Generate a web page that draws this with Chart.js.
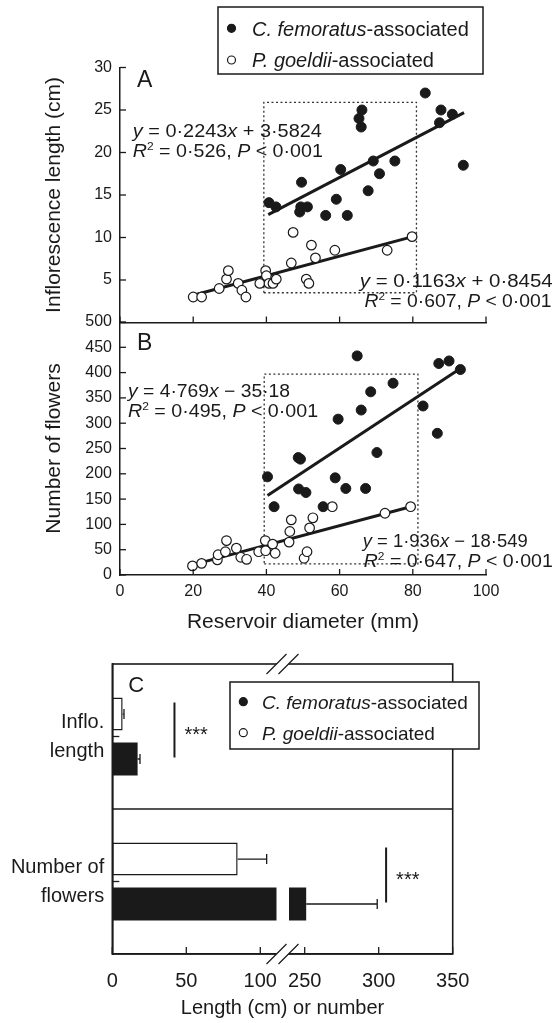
<!DOCTYPE html>
<html>
<head>
<meta charset="utf-8">
<script src="https://cdn.jsdelivr.net/npm/chart.js@4.4.1/dist/chart.umd.min.js"></script>
<style>
body { margin: 0; background: #fff; }
#wrap { position: relative; width: 557px; height: 1023px; }
#wrap canvas { position: absolute; left: 0; top: 0; }
</style>
</head>
<body>
<div id="wrap">
<canvas id="chartA" width="557" height="1023"></canvas>
<canvas id="chartB" width="557" height="1023"></canvas>
<canvas id="chartC" width="557" height="1023"></canvas>
</div>
<script>
var seriesNames = ['C. femoratus', 'P. goeldii'];

// A: inflorescence length (cm) vs reservoir diameter (mm)
var femA_x = [40.7, 42.6, 49.6, 49.1, 49.4, 51.2, 56.2, 59.1, 60.3, 62.1, 66.1, 65.3, 65.9, 67.8, 69.2, 70.9, 75.1, 83.4, 87.7, 87.3, 90.8, 93.8];
var femA_y = [14.1, 13.6, 16.5, 13.0, 13.6, 13.6, 12.6, 14.5, 18.0, 12.6, 25.0, 24.0, 23.0, 15.5, 19.0, 17.5, 19.0, 27.0, 25.0, 23.5, 24.5, 18.5];
var goeA_x = [20.0, 22.3, 27.1, 29.1, 29.6, 32.3, 33.3, 34.4, 38.2, 39.8, 40.0, 40.7, 41.8, 42.7, 46.8, 47.3, 50.9, 51.6, 52.3, 53.4, 58.7, 73.0, 79.8];
var goeA_y = [3.0, 3.0, 4.0, 5.1, 6.1, 4.6, 3.8, 3.0, 4.6, 6.1, 5.5, 4.6, 4.6, 5.1, 7.0, 10.6, 5.1, 4.6, 9.1, 7.6, 8.5, 8.5, 10.1];
var fitFemA_x = [40.5, 94], fitFemA_y = [12.7, 24.7];
var fitGoeA_x = [20, 80], fitGoeA_y = [3.2, 10.1];
var boxA_x = [39.3, 81.0], boxA_y = [3.5, 25.9];

// B: number of flowers vs reservoir diameter (mm)
var femB_x = [40.3, 42.1, 48.7, 49.3, 48.8, 50.8, 55.5, 58.8, 59.6, 61.7, 64.8, 65.9, 67.1, 68.5, 70.2, 74.6, 82.8, 86.7, 87.1, 89.9, 93.0];
var femB_y = [194, 135, 232, 229, 170, 163, 135, 192, 308, 171, 433, 326, 171, 362, 242, 379, 334, 280, 418, 423, 406];
var goeB_x = [19.8, 22.3, 26.6, 26.8, 28.8, 29.1, 31.8, 33.0, 34.6, 37.9, 39.7, 39.8, 41.7, 42.4, 46.2, 46.4, 46.8, 50.3, 51.1, 51.8, 52.7, 58.0, 72.4, 79.4];
var goeB_y = [18, 23, 30, 40, 46, 68, 53, 35, 31, 46, 68, 48, 61, 43, 65, 86, 109, 33, 46, 93, 113, 135, 122, 135];
var fitFemB_x = [40.3, 93], fitFemB_y = [157, 408];
var fitGoeB_x = [19.8, 79.4], fitGoeB_y = [20, 135];
var boxB_x = [39.4, 81.4], boxB_y = [22, 397];

// C: means with error bars, length axis broken between 115 and 235
var cCategories = [['Inflo.', 'length'], ['Number of', 'flowers']];
var cGoeMean = [7.0, 84.7], cGoeErr = [0.9, 19.6];
var cFemMean = [17.1, 251], cFemErr = [1.6, 48];
var cTickLabels = [0, 50, 100, 250, 300, 350];
var axisBreak = [115, 235];
var sigX = [42, 305];

var ink = '#1a1a1a';
var FONT = "'Liberation Sans', Arial, Helvetica, sans-serif";
Chart.defaults.font.family = FONT;
Chart.defaults.color = ink;

function pts(xs, ys) { return xs.map(function (x, i) { return { x: x, y: ys[i] }; }); }
function rect(xs, ys) {
  return [{ x: xs[0], y: ys[0] }, { x: xs[1], y: ys[0] }, { x: xs[1], y: ys[1] }, { x: xs[0], y: ys[1] }, { x: xs[0], y: ys[0] }];
}
function toAxis(v) { return v <= axisBreak[0] ? v : v - (axisBreak[1] - axisBreak[0]); }

function segFont(s, size) {
  var sz = s[1] === 's' ? Math.round(size * 0.62) : size;
  return (s[1] === 'i' ? 'italic ' : '') + sz + 'px ' + FONT;
}
// draws text made of styled pieces, optionally stretched to a width
function richText(ctx, segs, x, y, size, width) {
  var ws = [], total = 0;
  segs.forEach(function (s) { ctx.font = segFont(s, size); var w = ctx.measureText(s[0]).width; ws.push(w); total += w; });
  ctx.save();
  ctx.translate(x, y);
  if (width) ctx.scale(width / total, 1);
  ctx.textBaseline = 'alphabetic';
  ctx.textAlign = 'left';
  ctx.fillStyle = ink;
  var cx = 0;
  segs.forEach(function (s, i) {
    ctx.font = segFont(s, size);
    ctx.fillText(s[0], cx, s[1] === 's' ? -size * 0.38 : 0);
    cx += ws[i];
  });
  ctx.restore();
}

function drawKey(ctx, box, rows, size) {
  ctx.save();
  ctx.fillStyle = '#fff';
  ctx.fillRect(box.l, box.t, box.r - box.l, box.b - box.t);
  ctx.lineWidth = 1.5;
  ctx.strokeStyle = ink;
  ctx.strokeRect(box.l, box.t, box.r - box.l, box.b - box.t);
  rows.forEach(function (row, i) {
    ctx.beginPath();
    ctx.arc(box.mx, row, 4, 0, Math.PI * 2);
    ctx.fillStyle = i === 0 ? ink : '#fff';
    ctx.fill();
    ctx.lineWidth = 1.2;
    ctx.stroke();
    richText(ctx, [[seriesNames[i], 'i'], ['-associated']], box.tx, row + size * 0.36, size);
  });
  ctx.restore();
}

function r2(r, p) { return [['R', 'i'], ['2', 's'], [' = 0\u00b7' + r + ', '], ['P', 'i'], [' < 0\u00b7' + p]]; }

var eqA = [
  { x: 3.5, y: 21.8, w: 189, segs: [['y', 'i'], [' = 0\u00b72243'], ['x', 'i'], [' + 3\u00b75824']] },
  { x: 3.5, y: 19.5, w: 190, segs: r2('526', '001') },
  { x: 65.5, y: 4.2, w: 193, segs: [['y', 'i'], [' = 0\u00b71163'], ['x', 'i'], [' + 0\u00b78454']] },
  { x: 66.8, y: 1.85, w: 187, segs: r2('607', '001') }
];
var eqB = [
  { x: 2.2, y: 352, w: 162, segs: [['y', 'i'], [' = 4\u00b7769'], ['x', 'i'], [' \u2212 35\u00b718']] },
  { x: 2.2, y: 313, w: 190, segs: r2('495', '001') },
  { x: 66.3, y: 56, w: 165, segs: [['y', 'i'], [' = 1\u00b7936'], ['x', 'i'], [' \u2212 18\u00b7549']] },
  { x: 66.6, y: 16.4, w: 189, segs: r2('647', '001') }
];

// tick marks pointing into the plot
var inwardTicks = {
  id: 'inwardTicks',
  afterDraw: function (chart, args, opts) {
    var ctx = chart.ctx, a = chart.chartArea;
    ctx.save();
    ctx.strokeStyle = ink;
    ctx.lineWidth = 1.3;
    Object.keys(chart.scales).forEach(function (k) {
      var s = chart.scales[k];
      s.ticks.forEach(function (t, i) {
        var p = s.getPixelForTick(i);
        ctx.beginPath();
        if (s.isHorizontal()) { ctx.moveTo(p, a.bottom); ctx.lineTo(p, a.bottom - opts.len); }
        else { ctx.moveTo(a.left, p); ctx.lineTo(a.left + opts.len, p); }
        ctx.stroke();
      });
    });
    ctx.restore();
  }
};

var equations = {
  id: 'equations',
  afterDraw: function (chart, args, opts) {
    var ctx = chart.ctx, xs = chart.scales.x, ys = chart.scales.y;
    opts.lines.forEach(function (e) {
      richText(ctx, e.segs, xs.getPixelForValue(e.x), ys.getPixelForValue(e.y), 18, e.w);
    });
    ctx.save();
    ctx.fillStyle = ink;
    ctx.font = '23px ' + FONT;
    ctx.fillText(opts.panel, chart.chartArea.left + 17, chart.chartArea.top + opts.panelDy);
    ctx.restore();
    if (opts.key) drawKey(ctx, { l: 218, t: 7, r: 483, b: 74, mx: 231.5, tx: 252 }, [28.3, 60], 20);
  }
};

function scatterSets(fx, fy, gx, gy, lfx, lfy, lgx, lgy, bx, by) {
  return [
    { label: seriesNames[0], data: pts(fx, fy), pointRadius: 5, pointBackgroundColor: ink, pointBorderColor: ink, pointBorderWidth: 1 },
    { label: seriesNames[1], data: pts(gx, gy), pointRadius: 4.8, pointBackgroundColor: '#fff', pointBorderColor: ink, pointBorderWidth: 1.2 },
    { data: pts(lfx, lfy), showLine: true, pointRadius: 0, borderColor: ink, borderWidth: 3 },
    { data: pts(lgx, lgy), showLine: true, pointRadius: 0, borderColor: ink, borderWidth: 3 },
    { data: rect(bx, by), showLine: true, pointRadius: 0, borderColor: '#333', borderWidth: 1.3, borderDash: [2, 2.5] }
  ];
}

function axisBase() {
  return {
    type: 'linear',
    grid: { display: false, drawTicks: false },
    border: { display: true, color: ink, width: 1.5 }
  };
}

// panel A
var xA = axisBase();
xA.min = 0; xA.max = 100;
xA.ticks = { stepSize: 20, display: false };
xA.afterFit = function (s) { s.height = 0; };
var yA = axisBase();
yA.min = 0; yA.max = 30;
yA.ticks = { stepSize: 5, padding: 8, font: { size: 16 }, callback: function (v) { return v === 0 ? '' : v; } };
yA.title = { display: true, text: 'Inflorescence length (cm)', font: { size: 21 }, padding: { top: 41.4, bottom: 0 } };
yA.afterFit = function (s) { s.width = 120; };

new Chart(document.getElementById('chartA'), {
  type: 'scatter',
  data: { datasets: scatterSets(femA_x, femA_y, goeA_x, goeA_y, fitFemA_x, fitFemA_y, fitGoeA_x, fitGoeA_y, boxA_x, boxA_y) },
  options: {
    responsive: false, animation: false, events: [],
    layout: { padding: { left: 0, right: 71, top: 67.5, bottom: 700.5 } },
    scales: { x: xA, y: yA },
    plugins: {
      legend: { display: false }, tooltip: { enabled: false },
      inwardTicks: { len: 6 },
      equations: { lines: eqA, panel: 'A', panelDy: 19.5, key: true }
    }
  },
  plugins: [inwardTicks, equations]
});

// panel B
var xB = axisBase();
xB.min = 0; xB.max = 100;
xB.ticks = { stepSize: 20, padding: 7, font: { size: 16 } };
xB.title = { display: true, text: 'Reservoir diameter (mm)', font: { size: 21 }, padding: { top: 0, bottom: 0 } };
xB.afterFit = function (s) { s.height = 59.6; };
var yB = axisBase();
yB.min = 0; yB.max = 500;
yB.ticks = { stepSize: 50, padding: 8, font: { size: 16 } };
yB.title = { display: true, text: 'Number of flowers', font: { size: 21 }, padding: { top: 41.4, bottom: 0 } };
yB.afterFit = function (s) { s.width = 120; };

new Chart(document.getElementById('chartB'), {
  type: 'scatter',
  data: { datasets: scatterSets(femB_x, femB_y, goeB_x, goeB_y, fitFemB_x, fitFemB_y, fitGoeB_x, fitGoeB_y, boxB_x, boxB_y) },
  options: {
    responsive: false, animation: false, events: [],
    layout: { padding: { left: 0, right: 71, top: 322, bottom: 388.4 } },
    scales: { x: xB, y: yB },
    plugins: {
      legend: { display: false }, tooltip: { enabled: false },
      inwardTicks: { len: 6 },
      equations: { lines: eqB, panel: 'B', panelDy: 28 }
    }
  },
  plugins: [inwardTicks, equations]
});

// panel C
var barExtras = {
  id: 'barExtras',
  afterDatasetsDraw: function (chart) {
    var ctx = chart.ctx, xs = chart.scales.x;
    var bx = xs.getPixelForValue(axisBreak[0]);
    ctx.save();
    chart.data.datasets.forEach(function (ds, di) {
      chart.getDatasetMeta(di).data.forEach(function (bar, i) {
        if (bar.x > bx + 6) {
          ctx.fillStyle = '#fff';
          ctx.fillRect(bx - 6, bar.y - bar.height / 2 - 1, 12.5, bar.height + 2);
        }
        var ex = xs.getPixelForValue(toAxis(ds.real[i] + ds.err[i]));
        ctx.strokeStyle = ink;
        ctx.lineWidth = 1.3;
        ctx.beginPath();
        ctx.moveTo(bar.x, bar.y); ctx.lineTo(ex, bar.y);
        ctx.moveTo(ex, bar.y - 5); ctx.lineTo(ex, bar.y + 5);
        ctx.stroke();
      });
    });
    ctx.restore();
  },
  afterDraw: function (chart) {
    var ctx = chart.ctx, a = chart.chartArea, xs = chart.scales.x, ys = chart.scales.y;
    var bx = xs.getPixelForValue(axisBreak[0]);
    ctx.save();
    ctx.strokeStyle = ink;
    ctx.lineWidth = 1.6;
    ctx.strokeRect(a.left, a.top, a.right - a.left, a.bottom - a.top);
    var mid = (ys.getPixelForTick(0) + ys.getPixelForTick(1)) / 2;
    ctx.beginPath(); ctx.moveTo(a.left, mid); ctx.lineTo(a.right, mid); ctx.stroke();
    // break marks
    [a.top, a.bottom].forEach(function (y) {
      ctx.fillStyle = '#fff';
      ctx.beginPath();
      ctx.moveTo(bx - 16, y + 10); ctx.lineTo(bx + 4, y - 10); ctx.lineTo(bx + 16, y - 10); ctx.lineTo(bx - 4, y + 10);
      ctx.closePath(); ctx.fill();
      ctx.lineWidth = 1.2;
      ctx.beginPath();
      ctx.moveTo(bx - 16, y + 10); ctx.lineTo(bx + 4, y - 10);
      ctx.moveTo(bx - 4, y + 10); ctx.lineTo(bx + 16, y - 10);
      ctx.stroke();
    });
    // significance
    var m0 = chart.getDatasetMeta(0).data, m1 = chart.getDatasetMeta(1).data;
    sigX.forEach(function (v, i) {
      var x = xs.getPixelForValue(toAxis(v));
      var c = (m0[i].y + m1[i].y) / 2;
      ctx.lineWidth = 2;
      ctx.beginPath(); ctx.moveTo(x, c - 34); ctx.lineTo(x, c + 21); ctx.stroke();
      ctx.fillStyle = ink;
      ctx.font = '20px ' + FONT;
      ctx.fillText('***', x + 10, c + 4);
    });
    ctx.fillStyle = ink;
    ctx.font = '22px ' + FONT;
    ctx.fillText('C', a.left + 16, a.top + 28);
    ctx.restore();
    drawKey(ctx, { l: 230, t: 682, r: 479, b: 749, mx: 243.3, tx: 262 }, [701.7, 732.7], 19);
  }
};

new Chart(document.getElementById('chartC'), {
  type: 'bar',
  data: {
    labels: cCategories,
    datasets: [
      { label: seriesNames[1], data: cGoeMean.map(toAxis), real: cGoeMean, err: cGoeErr, backgroundColor: '#fff', borderColor: ink, borderWidth: 1.5, borderSkipped: false, categoryPercentage: 0.62, barPercentage: 0.733 },
      { label: seriesNames[0], data: cFemMean.map(toAxis), real: cFemMean, err: cFemErr, backgroundColor: ink, borderWidth: 0, categoryPercentage: 0.62, barPercentage: 0.733 }
    ]
  },
  options: {
    indexAxis: 'y', responsive: false, animation: false, events: [],
    layout: { padding: { left: 0, right: 104.3, top: 664, bottom: 3 } },
    scales: {
      x: {
        type: 'linear', min: 0, max: toAxis(350),
        grid: { display: false, drawTicks: false },
        border: { display: true, color: ink, width: 1.6 },
        afterBuildTicks: function (s) { s.ticks = cTickLabels.map(function (v) { return { value: toAxis(v) }; }); },
        ticks: { autoSkip: false, padding: 15, font: { size: 20 }, callback: function (v, i) { return cTickLabels[i]; } },
        title: { display: true, text: 'Length (cm) or number', font: { size: 20 }, padding: { top: 0, bottom: 0 } },
        afterFit: function (s) { s.height = 66; }
      },
      y: {
        type: 'category',
        grid: { display: false, drawTicks: false },
        border: { display: true, color: ink, width: 1.6 },
        ticks: { padding: 8, font: { size: 20, lineHeight: 1.45 } },
        afterFit: function (s) { s.width = 112.3; }
      }
    },
    plugins: {
      legend: { display: false }, tooltip: { enabled: false },
      inwardTicks: { len: 7 }
    }
  },
  plugins: [inwardTicks, barExtras]
});
</script>
</body>
</html>
